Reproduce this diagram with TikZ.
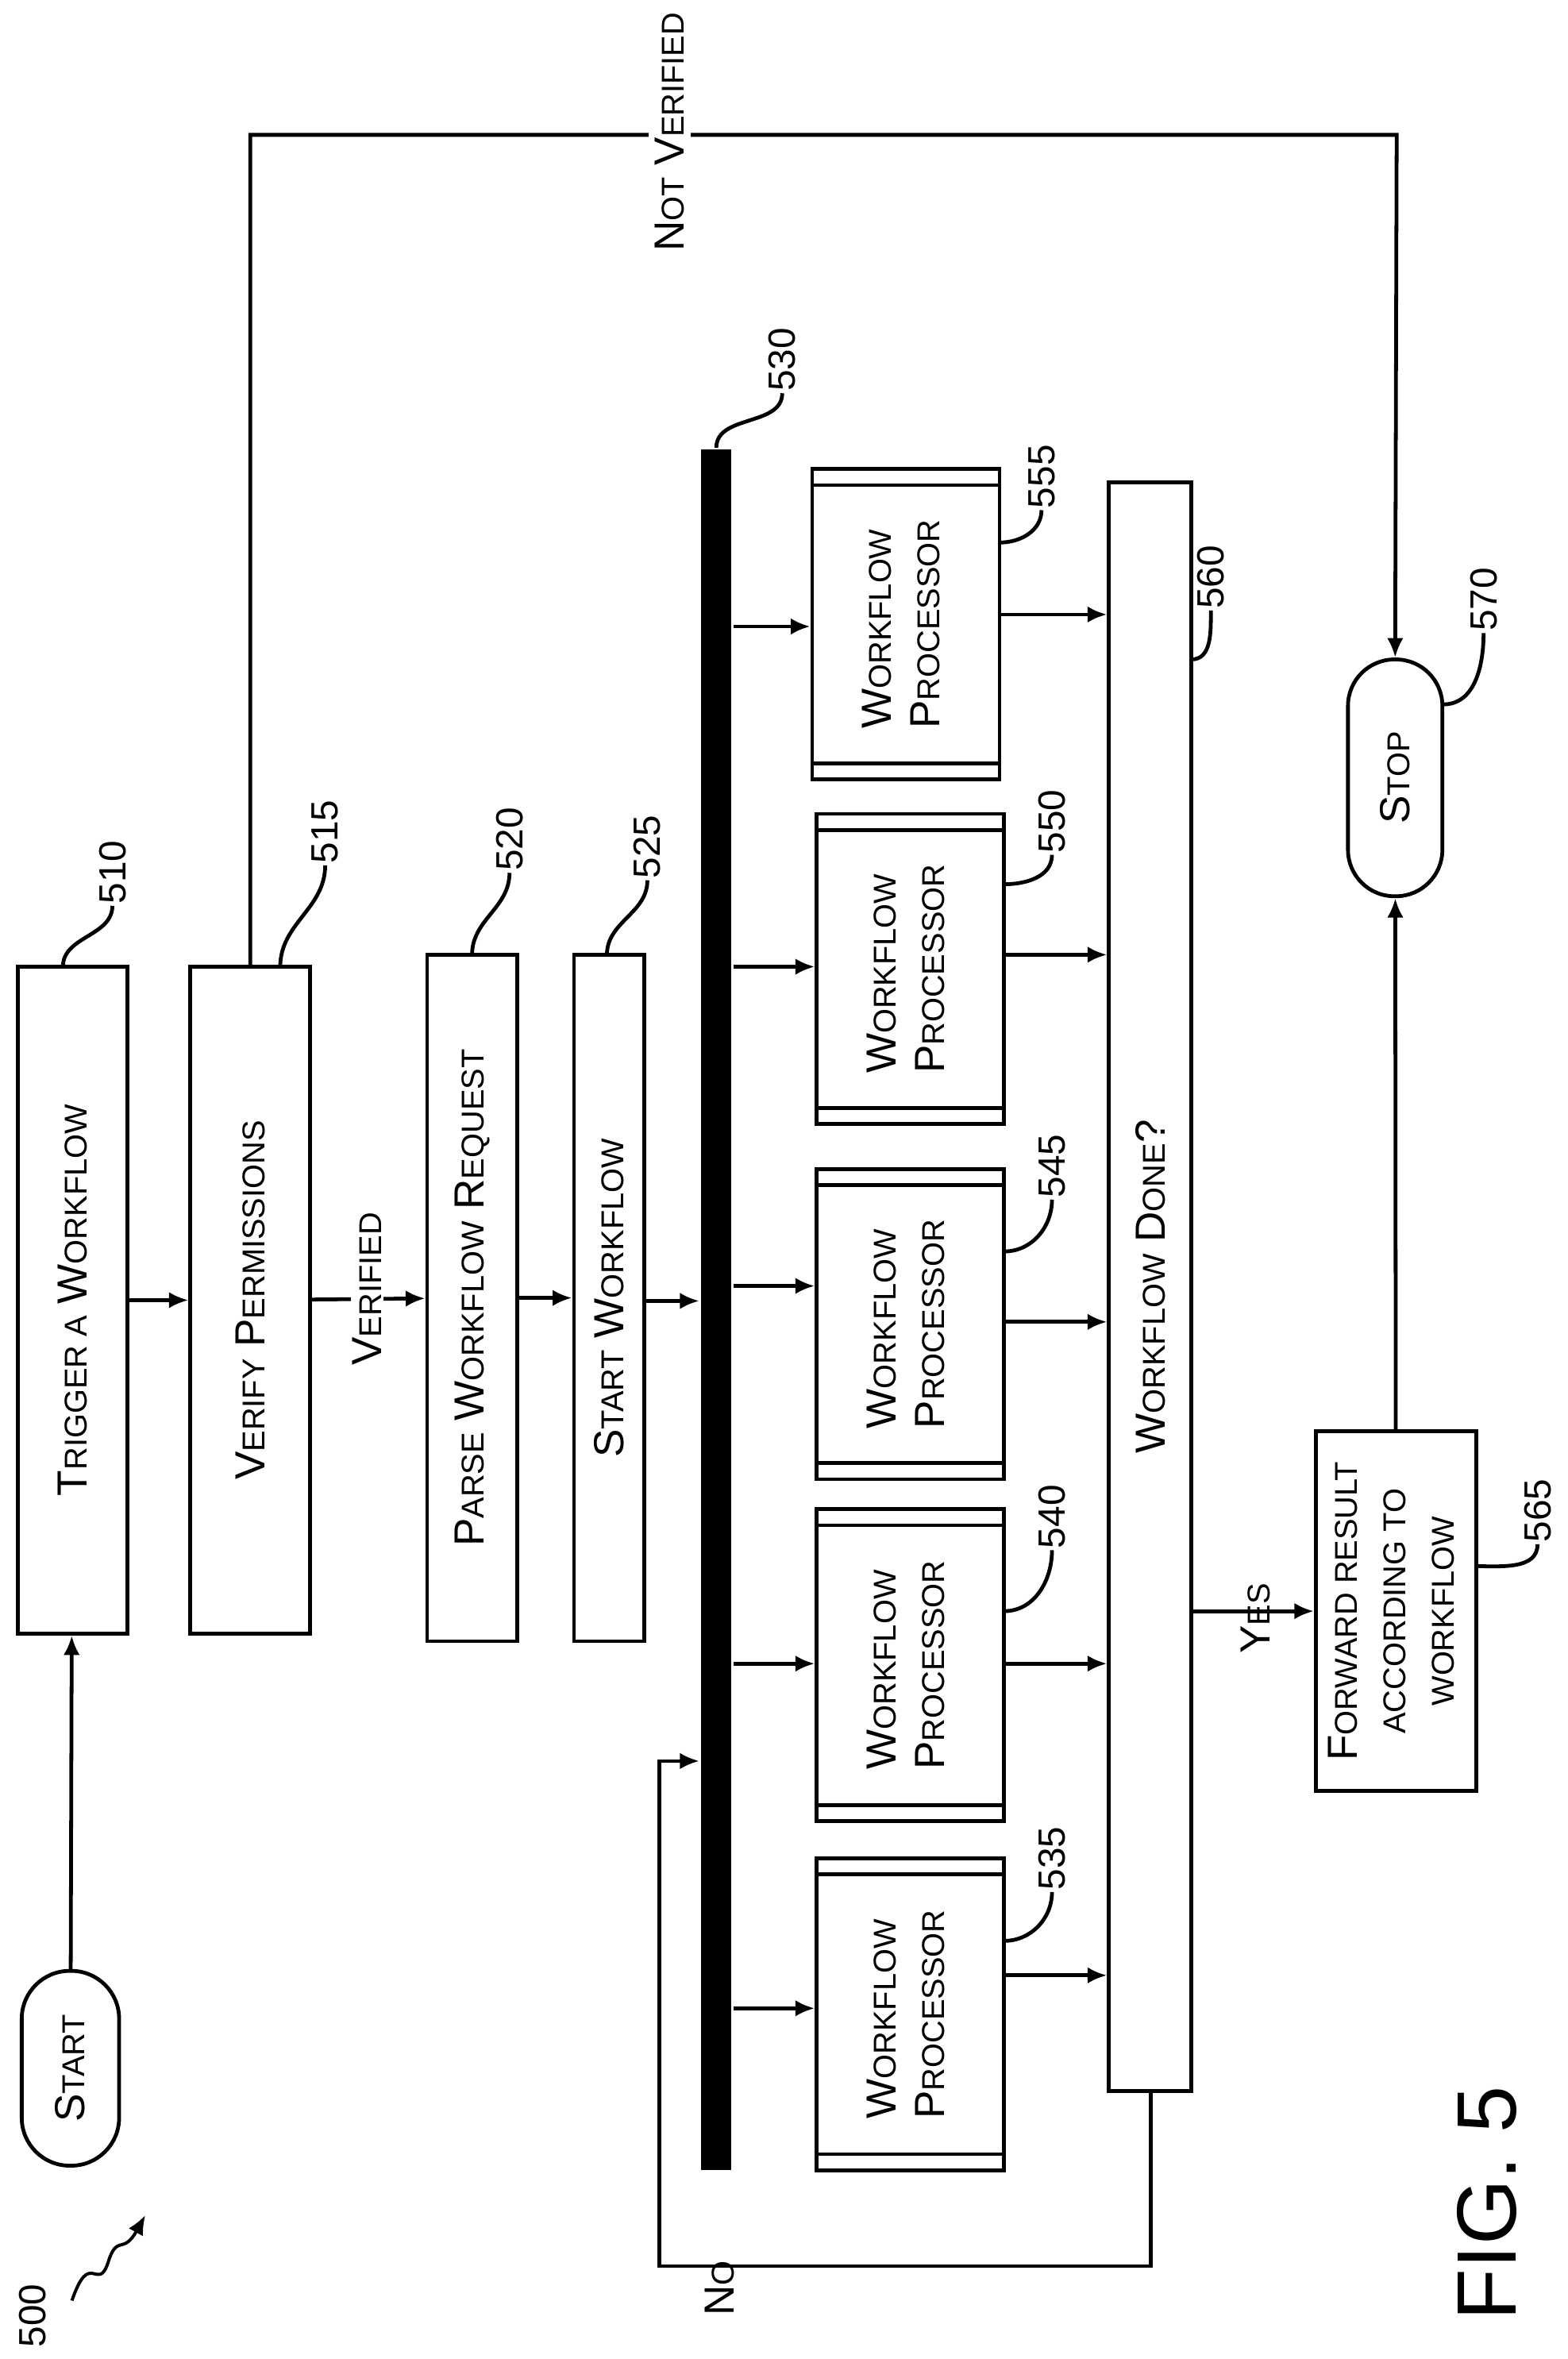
\documentclass[tikz,border=0pt]{standalone}
\usepackage{fontspec}
\setmainfont{Liberation Sans}
\usetikzlibrary{arrows.meta}
\newcommand\mainsz{\fontsize{40}{46}\selectfont}
\newcommand\smsz{\fontsize{30}{36}\selectfont}
\newcommand\numsz{\fontsize{36}{40}\selectfont}
\newcommand\ms[2]{#1{\smsz #2}}
\newcommand\R[1]{\rotatebox{90}{#1}}
\begin{document}
\begin{tikzpicture}[x=0.05cm,y=-0.05cm,
  every node/.style={font=\mainsz,inner sep=0pt},
  line width=3.6pt,
  arr/.style={-{Latex[length=0.65cm,width=0.55cm]}},
  box/.style={draw,line width=3.6pt},
  lbl/.style={font=\numsz}]
\useasboundingbox (0,0) rectangle (1046,1574);
\fill[white] (0,0) rectangle (1046,1574);
% terminals
\node[box,rounded corners=1.6cm,minimum width=65*0.05cm,minimum height=130*0.05cm] (start) at (47,1380) {\R{\ms{S}{TART}}};
\node[box,rounded corners=1.55cm,minimum width=63*0.05cm,minimum height=158*0.05cm] (stop) at (931,519) {\R{\ms{S}{TOP}}};
% boxes
\node[box,minimum width=73*0.05cm,minimum height=445*0.05cm] (trig) at (48.5,867.5) {\R{\ms{T}{RIGGER A} \ms{W}{ORKFLOW}}};
\node[box,minimum width=80*0.05cm,minimum height=445*0.05cm] (ver) at (167,867.5) {\R{\ms{V}{ERIFY} \ms{P}{ERMISSIONS}}};
\node[box,minimum width=60*0.05cm,minimum height=458*0.05cm] (parse) at (315,866) {\R{\ms{P}{ARSE} \ms{W}{ORKFLOW} \ms{R}{EQUEST}}};
\node[box,minimum width=47*0.05cm,minimum height=458*0.05cm] (sw) at (406.5,866) {\R{\ms{S}{TART} \ms{W}{ORKFLOW}}};
\node[fill=black,minimum width=20*0.05cm,minimum height=1148*0.05cm] (bar) at (478,874) {};
% processors
\foreach \n/\x/\ya/\yb in {p555/604.5/313/520,p550/607.5/543/750,p545/607.5/780/987,p540/607.5/1007/1215,p535/607.5/1240/1448}{
  \node[box,minimum width=125*0.05cm,minimum height={(\yb-\ya)*0.05cm}] (\n) at (\x,{(\ya+\yb)/2}) {\R{\begin{tabular}{@{}l@{}}\ms{W}{ORKFLOW}\\\ms{P}{ROCESSOR}\end{tabular}}};
  \draw ([yshift=-0.6cm]\n.north west) -- ([yshift=-0.6cm]\n.north east);
  \draw ([yshift=0.6cm]\n.south west) -- ([yshift=0.6cm]\n.south east);
}
\node[box,minimum width=55*0.05cm,minimum height=1073*0.05cm] (done) at (767.5,858.5) {\R{\ms{W}{ORKFLOW} \ms{D}{ONE}?}};
\node[box,minimum width=107*0.05cm,minimum height=240*0.05cm] (fwd) at (931.5,1075) {\R{\begin{tabular}{@{}c@{}}\ms{F}{ORWARD RESULT}\\{\smsz ACCORDING TO}\\{\smsz WORKFLOW}\end{tabular}}};
% connectors
\draw[arr] (start) -- (trig);
\draw[arr] (trig) -- (ver);
\draw[arr] (ver) -- (parse);
\draw[arr] (parse) -- (sw);
\draw[arr] (sw.east |- 0,868) -- (bar.west |- 0,868);
\node[fill=white,inner sep=2pt] (vlab) at (245,860) {\R{\ms{V}{ERIFIED}}};
\foreach \n/\y in {p555/418,p550/645,p545/858,p540/1110,p535/1340}
  \draw[arr] (bar.east |- 0,\y) -- (\n.west |- 0,\y);
\foreach \n/\y in {p555/410,p550/637,p545/882,p540/1110,p535/1318}
  \draw[arr] (\n.east |- 0,\y) -- (done.west |- 0,\y);
\coordinate (n1) at (768,1512);
\coordinate (n2) at (440,1512);
\coordinate (n3) at (440,1175);
\draw[arr] (done.south -| 768,0) -- (n1) -- (n2) -- (n3) -- (bar.west |- n3);
\node (nolab) at (480,1527) {\R{\ms{N}{O}}};
\draw[arr] (done.east |- 0,1075) -- (fwd.west |- 0,1075);
\node (yeslab) at (838,1080) {\R{\ms{Y}{ES}}};
\draw[arr] (fwd) -- (stop);
\coordinate (v1) at (167,90);
\coordinate (v2) at (932,90);
\draw[arr] (ver.north) -- (v1) -- (v2) -- (stop.north);
\node[fill=white,inner sep=6pt] (nvlab) at (447,88) {\R{\ms{N}{OT} \ms{V}{ERIFIED}}};
% reference numbers
\foreach \t/\lx/\ly/\sx/\sy in {510/75/582/42/645,515/217/555/187/645,520/340/560/315/637,525/432/565/405/637}{
  \node[lbl] (L\t) at (\lx,\ly) {\R{\t}};
  \draw (\sx,\sy) to[out=90,in=-90] (L\t.south);
}
\node[lbl] (L530) at (522,240) {\R{530}};
\draw (bar.north) to[out=90,in=-90] (L530.south);
\foreach \t/\lx/\ly/\sx/\sy in {555/695/318/667/362,550/702/548/670/590,545/702/778/670/835,540/702/1012/670/1075,535/702/1240/670/1295,560/808/385/795/440,570/990/400/963/470,565/1026/1008/985/1045}{
  \node[lbl] (L\t) at (\lx,\ly) {\R{\t}};
  \draw (\sx,\sy) to[out=0,in=-90] (L\t.south);
}
\node[lbl] (L500) at (22,1545) {\R{500}};
\coordinate (s0) at (48,1535);
\coordinate (s1) at (97,1478);
\draw[arr,line width=3pt] (s0) .. controls (60,1500) and (65,1530) .. (72,1510) .. controls (78,1490) and (82,1505) .. (s1);
\node (fig) at (992,1470) {\R{\fontsize{80}{90}\selectfont FIG. 5}};
\end{tikzpicture}
\end{document}
